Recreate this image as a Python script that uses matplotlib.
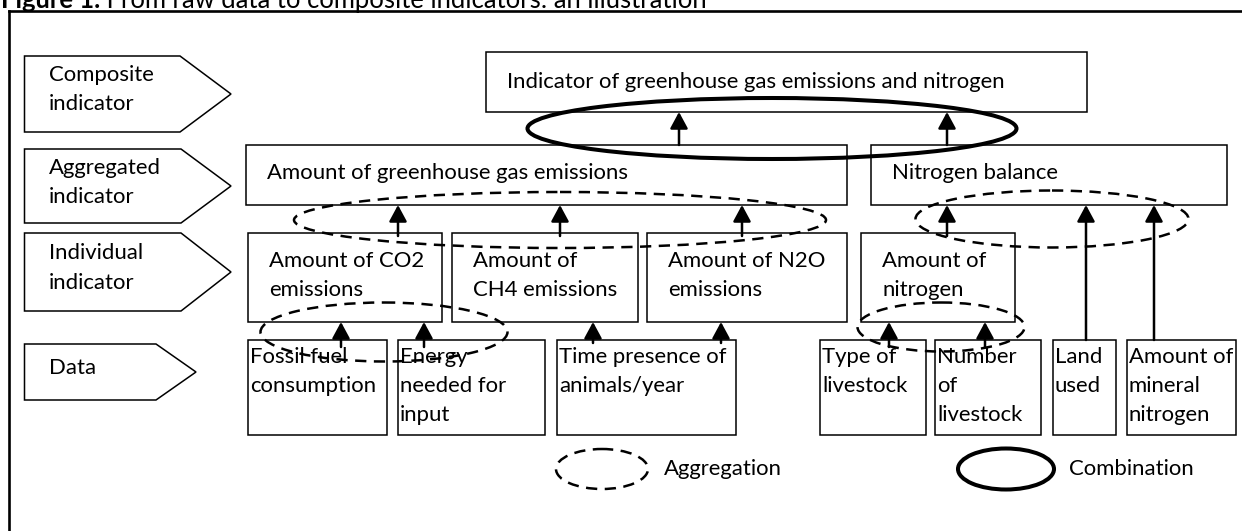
import matplotlib
matplotlib.use('Agg')
import matplotlib.pyplot as plt
from matplotlib import font_manager as fm
from matplotlib.patches import Rectangle, Polygon, Ellipse


def available(name):
    try:
        fm.findfont(fm.FontProperties(family=name), fallback_to_default=False)
        return True
    except Exception:
        return False


FONT = next((f for f in ['Liberation Sans Narrow', 'Lato'] if available(f)), 'DejaVu Sans')
plt.rcParams['font.family'] = [FONT, 'DejaVu Sans']

# ---------------- content ----------------
title_bold = "Figure 1."
title_rest = " From raw data to composite indicators: an illustration"
level_labels = ["Composite\nindicator", "Aggregated\nindicator", "Individual\nindicator", "Data"]
composite_label = "Indicator of greenhouse gas emissions and nitrogen"
aggregated_labels = ["Amount of greenhouse gas emissions", "Nitrogen balance"]
individual_labels = ["Amount of CO2\nemissions", "Amount of\nCH4 emissions",
                     "Amount of N2O\nemissions", "Amount of\nnitrogen"]
data_labels = ["Fossil fuel\nconsumption", "Energy\nneeded for\ninput", "Time presence of\nanimals/year",
               "Type of\nlivestock", "Number\nof\nlivestock", "Land\nused", "Amount of\nmineral\nnitrogen"]
legend_labels = ["Aggregation", "Combination"]

# ---------------- layout (pixels, y downwards) ----------------
W, H = 1242, 531
pent_geom = [(56, 132, 180, 231), (149, 223, 181, 231), (233, 311, 181, 231), (344, 400, 156, 196)]
pent_base = [[81, 110], [174, 203], [259, 289], [374]]
comp_box = (486, 1087, 52, 112)
agg_boxes_x = [(246, 847), (871, 1227)]
agg_y = (145, 205)
ind_boxes_x = [(248, 442), (452, 638), (647, 847), (861, 1015)]
ind_y = (233, 322)
data_boxes_x = [(248, 387), (398, 545), (557, 736), (820, 926), (935, 1041), (1053, 1116), (1127, 1236)]
data_y = (340, 435)

fig = plt.figure(figsize=(W / 100, H / 100), dpi=100)
ax = fig.add_axes([0, 0, 1, 1])
ax.set_xlim(0, W)
ax.set_ylim(H, 0)
ax.axis('off')

renderer = fig.canvas.get_renderer()


def text_width(s, size, **kw):
    t = ax.text(0, 0, s, fontsize=size, **kw)
    w = t.get_window_extent(renderer).width
    t.remove()
    return w


# font size calibration: composite label spans ~500 px in the reference
fs = 10 * 500 / text_width(composite_label, 10)
# title spans ~706 px
tw = text_width(title_bold, 10, fontweight='bold') + text_width(title_rest, 10)
fs_title = 10 * 706 / tw

LW = 1.1


def box(x0, x1, y0, y1):
    ax.add_patch(Rectangle((x0, y0), x1 - x0, y1 - y0, fc='white', ec='black', lw=LW, zorder=2))


def pentagon(top, bottom, shoulder, tip):
    left = 24.5
    pts = [(left, top), (shoulder, top), (tip, (top + bottom) / 2), (shoulder, bottom), (left, bottom)]
    ax.add_patch(Polygon(pts, closed=True, fc='white', ec='black', lw=LW, zorder=2))


def write(x, baselines, text, size=None):
    for b, s in zip(baselines, text.split('\n')):
        ax.text(x, b, s, fontsize=size or fs, va='baseline', ha='left', color='black', zorder=3)


def arrow(x, y_from, y_to):
    ax.annotate('', xy=(x, y_to), xytext=(x, y_from),
                arrowprops=dict(arrowstyle='-|>,head_length=0.5,head_width=0.27', mutation_scale=20,
                                lw=1.8, color='black', shrinkA=0, shrinkB=0), zorder=4)


# frame
ax.plot([9, 9], [H + 5, 11], color='black', lw=1.9, solid_capstyle='projecting', zorder=1)
ax.plot([9, W + 5], [11, 11], color='black', lw=1.9, solid_capstyle='projecting', zorder=1)

# title
tb = ax.text(1, 8, title_bold, fontsize=fs_title, fontweight='bold', va='baseline', ha='left')
bb = tb.get_window_extent(renderer)
ax.text(1 + bb.width, 8, title_rest, fontsize=fs_title, va='baseline', ha='left')

# level pentagons
for lab, g, bl in zip(level_labels, pent_geom, pent_base):
    pentagon(*g)
    write(49, bl, lab)

# composite
box(*comp_box)
write(507, [88], composite_label)

# aggregated
for lab, (x0, x1), tx in zip(aggregated_labels, agg_boxes_x, [267, 892]):
    box(x0, x1, *agg_y)
    write(tx, [179], lab)

# individual
for lab, (x0, x1), tx in zip(individual_labels, ind_boxes_x, [269, 473, 668, 882]):
    box(x0, x1, *ind_y)
    write(tx, [267, 296], lab)

# data
for lab, (x0, x1) in zip(data_labels, data_boxes_x):
    box(x0, x1, *data_y)
    write(x0 + 2, [363, 392, 421], lab)

# arrows
for x in [679, 947]:
    arrow(x, agg_y[0], comp_box[3])
for x in [398, 560, 742, 947]:
    arrow(x, 236, agg_y[1])
for x in [1086, 1154]:
    arrow(x, data_y[0], agg_y[1])
for x in [341, 424, 889, 985]:
    arrow(x, 347, ind_y[1])
for x in [593, 721]:
    arrow(x, 343, ind_y[1])

# aggregation (dashed) and combination (solid) ellipses
dash = (0, (4.5, 3))
for cx, cy, w, h in [(560, 220, 532, 56), (1052, 219, 273, 57), (384, 332, 247, 59), (941, 327, 167, 49)]:
    ax.add_patch(Ellipse((cx, cy), w, h, fill=False, ec='black', lw=1.8, ls=dash, zorder=5))
ax.add_patch(Ellipse((772, 128.5), 489, 61, fill=False, ec='black', lw=2.9, zorder=5))

# legend
ax.add_patch(Ellipse((602, 469), 92, 40, fill=False, ec='black', lw=1.8, ls=dash, zorder=5))
write(664, [475], legend_labels[0])
ax.add_patch(Ellipse((1006, 469), 96, 41, fill=False, ec='black', lw=2.9, zorder=5))
write(1069, [475], legend_labels[1])

fig.savefig('out.png', dpi=100, facecolor='white')
